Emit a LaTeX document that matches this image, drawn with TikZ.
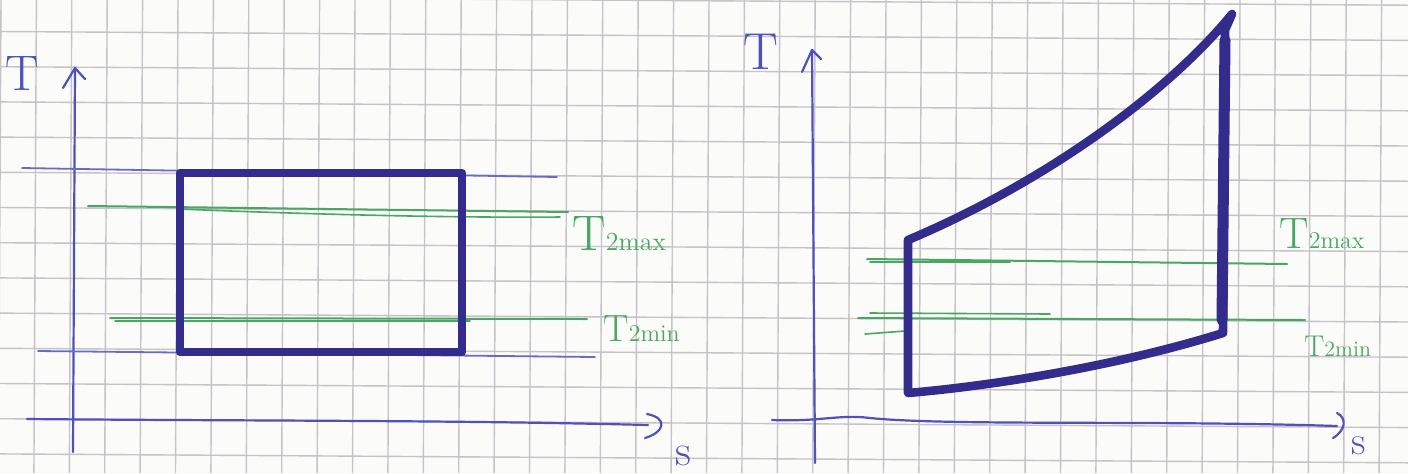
\documentclass[tikz,border=0pt]{standalone}
\definecolor{paper}{RGB}{251,251,250}
\definecolor{gridc}{RGB}{198,194,200}
\definecolor{pen}{RGB}{80,80,190}
\definecolor{penthick}{RGB}{52,44,140}
\definecolor{greenpen}{RGB}{72,168,98}
\begin{document}
\begin{tikzpicture}[x=0.5pt,y=-0.5pt,
  axis/.style={pen, line width=1.1pt, line cap=round, line join=round},
  guide/.style={pen!85, line width=0.9pt, line cap=round},
  cyclepath/.style={penthick, line width=4.3pt, line join=round, line cap=round},
  level/.style={greenpen, line width=1pt, line cap=round},
  axlabel/.style={pen, inner sep=0pt},
  lvlabel/.style={greenpen, inner sep=0pt, anchor=base west}]
\useasboundingbox (0,0) rectangle (1408,473);
\clip (0,0) rectangle (1408,473);
\fill[paper] (0,0) rectangle (1408,473);
% graph paper
\foreach \k in {0,...,40} \draw[gridc, line width=0.7pt] ({1+35.4*\k},0) -- ({1+35.4*\k-2.5},473);
\foreach \k in {-1,...,13} \draw[gridc, line width=0.7pt] (0,{31.5+35.2*\k}) -- (1408,{31.5+35.2*\k+8.9});

% ---------------- left diagram ----------------
\coordinate (LyB) at (73,452);
\coordinate (LyT) at (75,68);
\coordinate (LxB) at (27,419);
\coordinate (LxE) at (648,425);
\draw[axis] (LyB) -- (LyT);
\draw[axis] (63,88) -- (LyT) -- (85,79);
\draw[axis] (LxB) .. controls (250,421) and (450,420) .. (LxE);
\draw[axis] (647,414) .. controls (668,418) and (665,432) .. (645,438);
\node[axlabel, font=\fontsize{25}{25}\selectfont] (LT) at (22,73) {T};
\node[axlabel, font=\fontsize{22}{22}\selectfont] (Ls) at (683,456) {s};

\coordinate (LgA) at (22,168);
\coordinate (LgB) at (557,177);
\coordinate (LgC) at (38,351);
\coordinate (LgD) at (595,357);
\draw[guide] (LgA) -- (LgB);
\draw[guide] (LgC) -- (LgD);

\coordinate (LmaxA) at (88,206);
\coordinate (LmaxB) at (568,212);
\coordinate (LminA) at (110,318);
\coordinate (LminB) at (587,319);
\draw[level] (LmaxA) -- (LmaxB);
\draw[level, line width=0.8pt] (180,209) .. controls (300,214) and (450,218) .. (560,217);
\draw[level] (LminA) -- (LminB);
\draw[level, line width=0.8pt] (115,321) -- (470,321);

\coordinate (R1) at (180,173);
\coordinate (R2) at (462,352);
\draw[cyclepath] (R1) rectangle (R2);

\node[lvlabel] (LTmax) at (572,250) {\fontsize{25}{25}\selectfont T\fontsize{13}{13}\selectfont 2max};
\node[lvlabel] (LTmin) at (603,341) {\fontsize{19}{19}\selectfont T\fontsize{12}{12}\selectfont 2min};

% ---------------- right diagram ----------------
\coordinate (RyB) at (815,463);
\coordinate (RyT) at (812,50);
\coordinate (RxB) at (772,420);
\coordinate (RxE) at (1337,426);
\draw[axis] (RyB) -- (RyT);
\draw[axis] (802,72) -- (RyT) -- (821,59);
\draw[axis] (RxB) .. controls (820,422) and (840,414) .. (870,418) .. controls (950,426) and (1150,420) .. (RxE);
\draw[axis] (1337,413) .. controls (1347,418) and (1346,430) .. (1333,438);
\node[axlabel, font=\fontsize{26}{26}\selectfont] (RT) at (761,52) {T};
\node[axlabel, font=\fontsize{20}{20}\selectfont] (Rs) at (1359,446) {s};

\coordinate (RmaxA) at (867,259);
\coordinate (RmaxB) at (1287,264);
\coordinate (RminA) at (858,318);
\coordinate (RminB) at (1305,320);
\draw[level] (RmaxA) -- (RmaxB);
\draw[level, line width=0.8pt] (870,262) -- (1010,262);
\draw[level] (RminA) -- (RminB);
\draw[level, line width=0.8pt] (870,313) -- (1050,314);
\draw[level, line width=0.8pt] (865,334) -- (905,331);

\coordinate (P1) at (908,240);
\coordinate (P2) at (1232,14);
\coordinate (P3) at (1223,333);
\coordinate (P4) at (908,393);
\draw[cyclepath] (P1) .. controls (1050,180) and (1170,90) .. (P2)
   -- (1225,30) -- (P3) .. controls (1120,365) and (1000,385) .. (P4) -- cycle;
\draw[penthick, line width=5.5pt, line cap=round] (1225,40) -- (1222,320);

\node[lvlabel] (RTmax) at (1279,248) {\fontsize{22}{22}\selectfont T\fontsize{12}{12}\selectfont 2max};
\node[lvlabel] (RTmin) at (1304,356) {\fontsize{15}{15}\selectfont T\fontsize{11}{11}\selectfont 2min};
\end{tikzpicture}
\end{document}
